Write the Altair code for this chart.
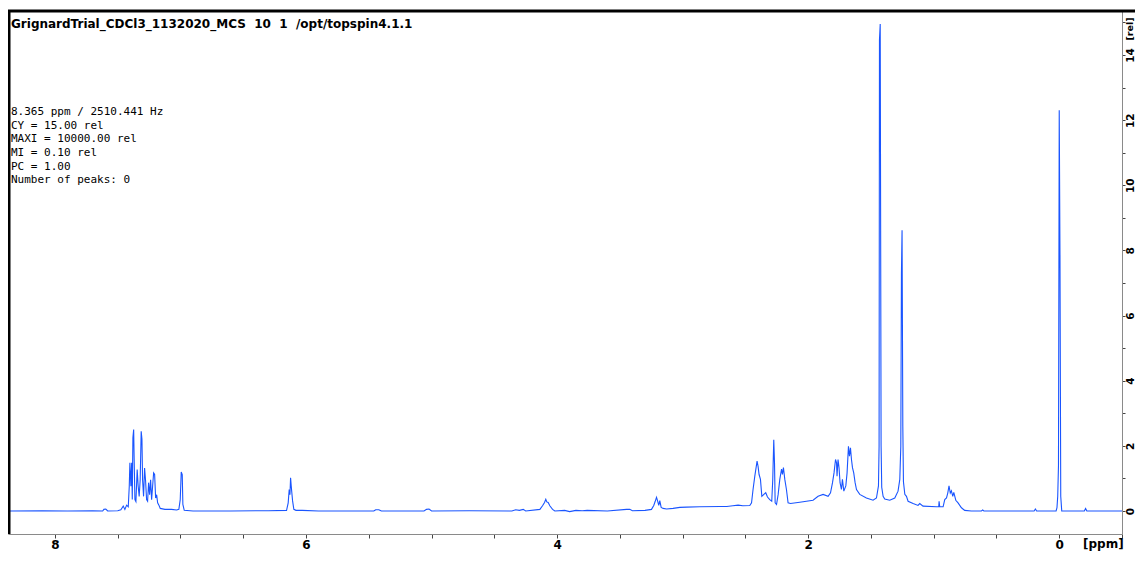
import altair as alt
import pandas as pd

# ---- spectrum data (ppm, intensity in rel units) ----
ppm_arom = [8.37, 8.10, 7.90, 7.70, 7.62, 7.61, 7.595, 7.58, 7.50, 7.475,
            7.456, 7.443, 7.429, 7.416, 7.408, 7.403, 7.395, 7.389, 7.384, 7.379,
            7.373, 7.369, 7.363, 7.355, 7.345, 7.337, 7.329, 7.321, 7.313, 7.307,
            7.302, 7.294, 7.286, 7.278, 7.270, 7.262, 7.254, 7.246, 7.238, 7.230,
            7.222, 7.214, 7.206, 7.198, 7.190, 7.182, 7.172, 7.161, 7.124, 7.071,
            7.031, 7.013, 7.002, 6.994, 6.986, 6.981, 6.970, 6.90]
int_arom = [0.0, 0.01, 0.0, 0.01, 0.0, 0.05, 0.06, 0.0, 0.01, 0.04,
            0.15, 0.05, 0.18, 0.13, 0.76, 1.48, 0.76, 1.48, 0.35, 2.25,
            2.50, 1.58, 0.35, 0.29, 1.27, 0.76, 0.45, 0.96, 2.45, 2.2,
            0.96, 0.45, 1.32, 0.92, 0.35, 0.30, 0.87, 0.50, 0.96, 0.35,
            0.76, 1.17, 1.12, 0.40, 0.50, 0.25, 0.18, 0.08, 0.05, 0.05,
            0.03, 0.05, 0.35, 1.20, 1.12, 0.20, 0.02, 0.0]

ppm_mid = [6.60, 6.30, 6.155, 6.142, 6.134, 6.128, 6.123, 6.118, 6.113, 6.107,
           6.097, 6.08, 6.03, 5.90, 5.46, 5.445, 5.42, 5.40, 5.06, 5.04,
           5.02, 5.00, 4.70, 4.36, 4.33, 4.30, 4.27, 4.25, 4.137, 4.116,
           4.100, 4.090, 4.082, 4.071, 4.058, 4.036, 4.018, 3.94, 3.90, 3.85,
           3.80, 3.76, 3.60, 3.447, 3.421, 3.40, 3.30, 3.248, 3.230, 3.219,
           3.208, 3.200, 3.190, 3.182, 3.171, 3.155, 3.128, 3.076, 3.022, 2.969,
           2.863, 2.70, 2.648, 2.60, 2.558, 2.52, 2.465]
int_mid = [0.0, 0.01, 0.02, 0.25, 0.66, 0.50, 1.02, 0.77, 0.56, 0.31,
           0.05, 0.02, 0.02, 0.0, 0.0, 0.04, 0.04, 0.0, 0.0, 0.05,
           0.06, 0.0, 0.01, 0.0, 0.04, 0.02, 0.05, 0.0, 0.05, 0.16,
           0.26, 0.36, 0.28, 0.26, 0.16, 0.05, 0.0, 0.02, -0.02, 0.02,
           0.01, 0.02, 0.0, 0.05, 0.05, 0.01, 0.02, 0.05, 0.17, 0.29,
           0.42, 0.32, 0.17, 0.32, 0.11, 0.08, 0.06, 0.08, 0.11, 0.12,
           0.13, 0.14, 0.14, 0.16, 0.18, 0.16, 0.17]

ppm_aliph = [2.451, 2.439, 2.425, 2.407, 2.399, 2.391, 2.380, 2.369, 2.353, 2.338,
             2.324, 2.306, 2.290, 2.282, 2.274, 2.268, 2.263, 2.252, 2.239, 2.226,
             2.212, 2.205, 2.197, 2.186, 2.173, 2.160, 2.141, 2.067, 1.961, 1.921,
             1.881, 1.841, 1.822, 1.806, 1.794, 1.782, 1.774, 1.770, 1.762, 1.754,
             1.746, 1.735, 1.727, 1.716, 1.700, 1.690, 1.679, 1.671, 1.663, 1.655,
             1.647, 1.637, 1.626, 1.615, 1.589, 1.536, 1.483, 1.456, 1.440, 1.435,
             1.432, 1.426, 1.419, 1.414, 1.403, 1.390, 1.350, 1.310, 1.284, 1.270,
             1.262, 1.257, 1.252, 1.246, 1.241, 1.230, 1.217, 1.204, 1.164, 1.125,
             1.111, 1.085, 0.978, 0.960, 0.957, 0.952, 0.925, 0.912, 0.898, 0.888,
             0.878, 0.868, 0.859, 0.848, 0.840, 0.824, 0.806, 0.779, 0.753, 0.70]
int_aliph = [0.25, 0.66, 1.07, 1.53, 1.37, 1.12, 0.97, 0.45, 0.51, 0.56,
             0.43, 0.35, 0.30, 0.97, 2.19, 1.46, 0.25, 0.20, 0.51, 0.97,
             1.29, 1.12, 1.33, 0.97, 0.66, 0.25, 0.23, 0.27, 0.33, 0.45,
             0.51, 0.45, 0.56, 0.87, 1.17, 1.58, 1.48, 1.07, 1.58, 1.33,
             0.87, 0.66, 0.97, 0.61, 0.77, 1.17, 1.99, 1.68, 1.94, 1.58,
             1.33, 1.17, 0.87, 0.66, 0.51, 0.40, 0.33, 0.40, 0.77, 1.99,
             14.46, 14.95, 2.0, 0.73, 0.45, 0.37, 0.33, 0.40, 0.61, 0.97,
             1.99, 7.3, 8.62, 2.6, 0.9, 0.51, 0.45, 0.30, 0.23, 0.17,
             0.23, 0.15, 0.13, 0.13, 0.30, 0.13, 0.13, 0.35, 0.40, 0.55,
             0.77, 0.55, 0.62, 0.45, 0.57, 0.33, 0.25, 0.10, 0.02, 0.0]

ppm_tms = [0.62, 0.61, 0.60, 0.20, 0.19, 0.18, 0.025, 0.018, 0.012, 0.006,
           0.0, -0.006, -0.012, -0.02, -0.20, -0.21, -0.22, -0.5]
int_tms = [0.0, 0.03, 0.0, 0.0, 0.06, 0.0, 0.0, 0.1, 0.45, 1.4,
           12.3, 7.8, 0.45, 0.0, 0.0, 0.08, 0.0, 0.0]

ppm_values = ppm_arom + ppm_mid + ppm_aliph + ppm_tms
int_values = int_arom + int_mid + int_aliph + int_tms

x_tick_values = [-0.5, 0, 0.5, 1, 1.5, 2, 2.5, 3, 3.5, 4, 4.5, 5, 5.5, 6, 6.5, 7, 7.5, 8]
y_tick_values = [0, 1, 2, 3, 4, 5, 6, 7, 8, 9, 10, 11, 12, 13, 14, 15]

title_text = "GrignardTrial_CDCl3_1132020_MCS\u00a0\u00a010\u00a0\u00a01\u00a0\u00a0/opt/topspin4.1.1"
info_lines = ["8.365 ppm / 2510.441 Hz", "CY = 15.00 rel", "MAXI = 10000.00 rel",
              "MI = 0.10 rel", "PC = 1.00", "Number of peaks: 0"]

df = pd.DataFrame({"ppm": ppm_values, "intensity": int_values})

W, H = 1114, 523
TOTAL_W = 1127
BLUE = "#1a55ff"

x_scale = alt.Scale(domain=[-0.5, 8.374], reverse=True, nice=False, zero=False)
y_scale = alt.Scale(domain=[-0.706, 15.35], nice=False, zero=False)

spectrum = alt.Chart(df).mark_line(color=BLUE, strokeWidth=1.1, clip=True).encode(
    x=alt.X("ppm:Q", scale=x_scale,
            axis=alt.Axis(values=x_tick_values, title=None, grid=False,
                          labelExpr="datum.value % 2 === 0 ? format(datum.value, 'd') : ''",
                          domainColor="#8a8a8a", tickColor="#444444", tickSize=4,
                          labelFont="DejaVu Sans", labelFontWeight="bold", labelFontSize=12,
                          labelColor="#000000", labelPadding=1, labelFlush=False,
                          labelOverlap=False)),
    y=alt.Y("intensity:Q", scale=y_scale,
            axis=alt.Axis(orient="right", values=y_tick_values, title=None, grid=False,
                          labelExpr="datum.value % 2 === 0 ? format(datum.value, 'd') : ''",
                          domainColor="#8a8a8a", tickColor="#444444", tickSize=3,
                          labelFont="DejaVu Sans", labelFontWeight="bold", labelFontSize=10.5,
                          labelColor="#000000", labelPadding=0, labelAngle=270,
                          labelAlign="center", labelBaseline="top", labelFlush=False,
                          labelOverlap=False)),
    order=alt.Order("ppm:Q", sort="ascending"),
)

one = pd.DataFrame({"k": [0]})

top_border = alt.Chart(one).mark_rule(color="#000000", strokeWidth=3).encode(
    x=alt.value(0), x2=alt.value(TOTAL_W), y=alt.value(0))
left_border = alt.Chart(one).mark_rule(color="#000000", strokeWidth=3).encode(
    x=alt.value(1), y=alt.value(0), y2=alt.value(H))

title_mark = alt.Chart(one).mark_text(
    align="left", baseline="alphabetic", font="DejaVu Sans", fontWeight="bold",
    fontSize=12, color="#000000").encode(
    x=alt.value(3), y=alt.value(17), text=alt.value(title_text))

layers = [spectrum, top_border, left_border, title_mark]
for i, line_text in enumerate(info_lines):
    layers.append(alt.Chart(one).mark_text(
        align="left", baseline="alphabetic", font="DejaVu Sans Mono",
        fontSize=11, color="#000000").encode(
        x=alt.value(3), y=alt.value(104 + i * 13.67), text=alt.value(line_text)))

ppm_unit = alt.Chart(one).mark_text(
    align="left", baseline="top", font="DejaVu Sans", fontWeight="bold",
    fontSize=12, color="#000000").encode(
    x=alt.value(1075), y=alt.value(H + 5), text=alt.value("[ppm]"))
rel_unit = alt.Chart(one).mark_text(
    align="center", baseline="top", font="DejaVu Sans", fontWeight="bold",
    fontSize=9.5, color="#000000", angle=270).encode(
    x=alt.value(W + 3), y=alt.value(18), text=alt.value("[rel]"))
layers += [ppm_unit, rel_unit]

chart = alt.layer(*layers).properties(
    width=W, height=H,
    autosize=alt.AutoSizeParams(type="none"),
    padding={"left": 0, "top": 3, "right": TOTAL_W - W, "bottom": 17},
).configure_view(stroke=None).configure(background="#ffffff")

chart.save("out.html", embed_options={"renderer": "svg", "actions": False})
